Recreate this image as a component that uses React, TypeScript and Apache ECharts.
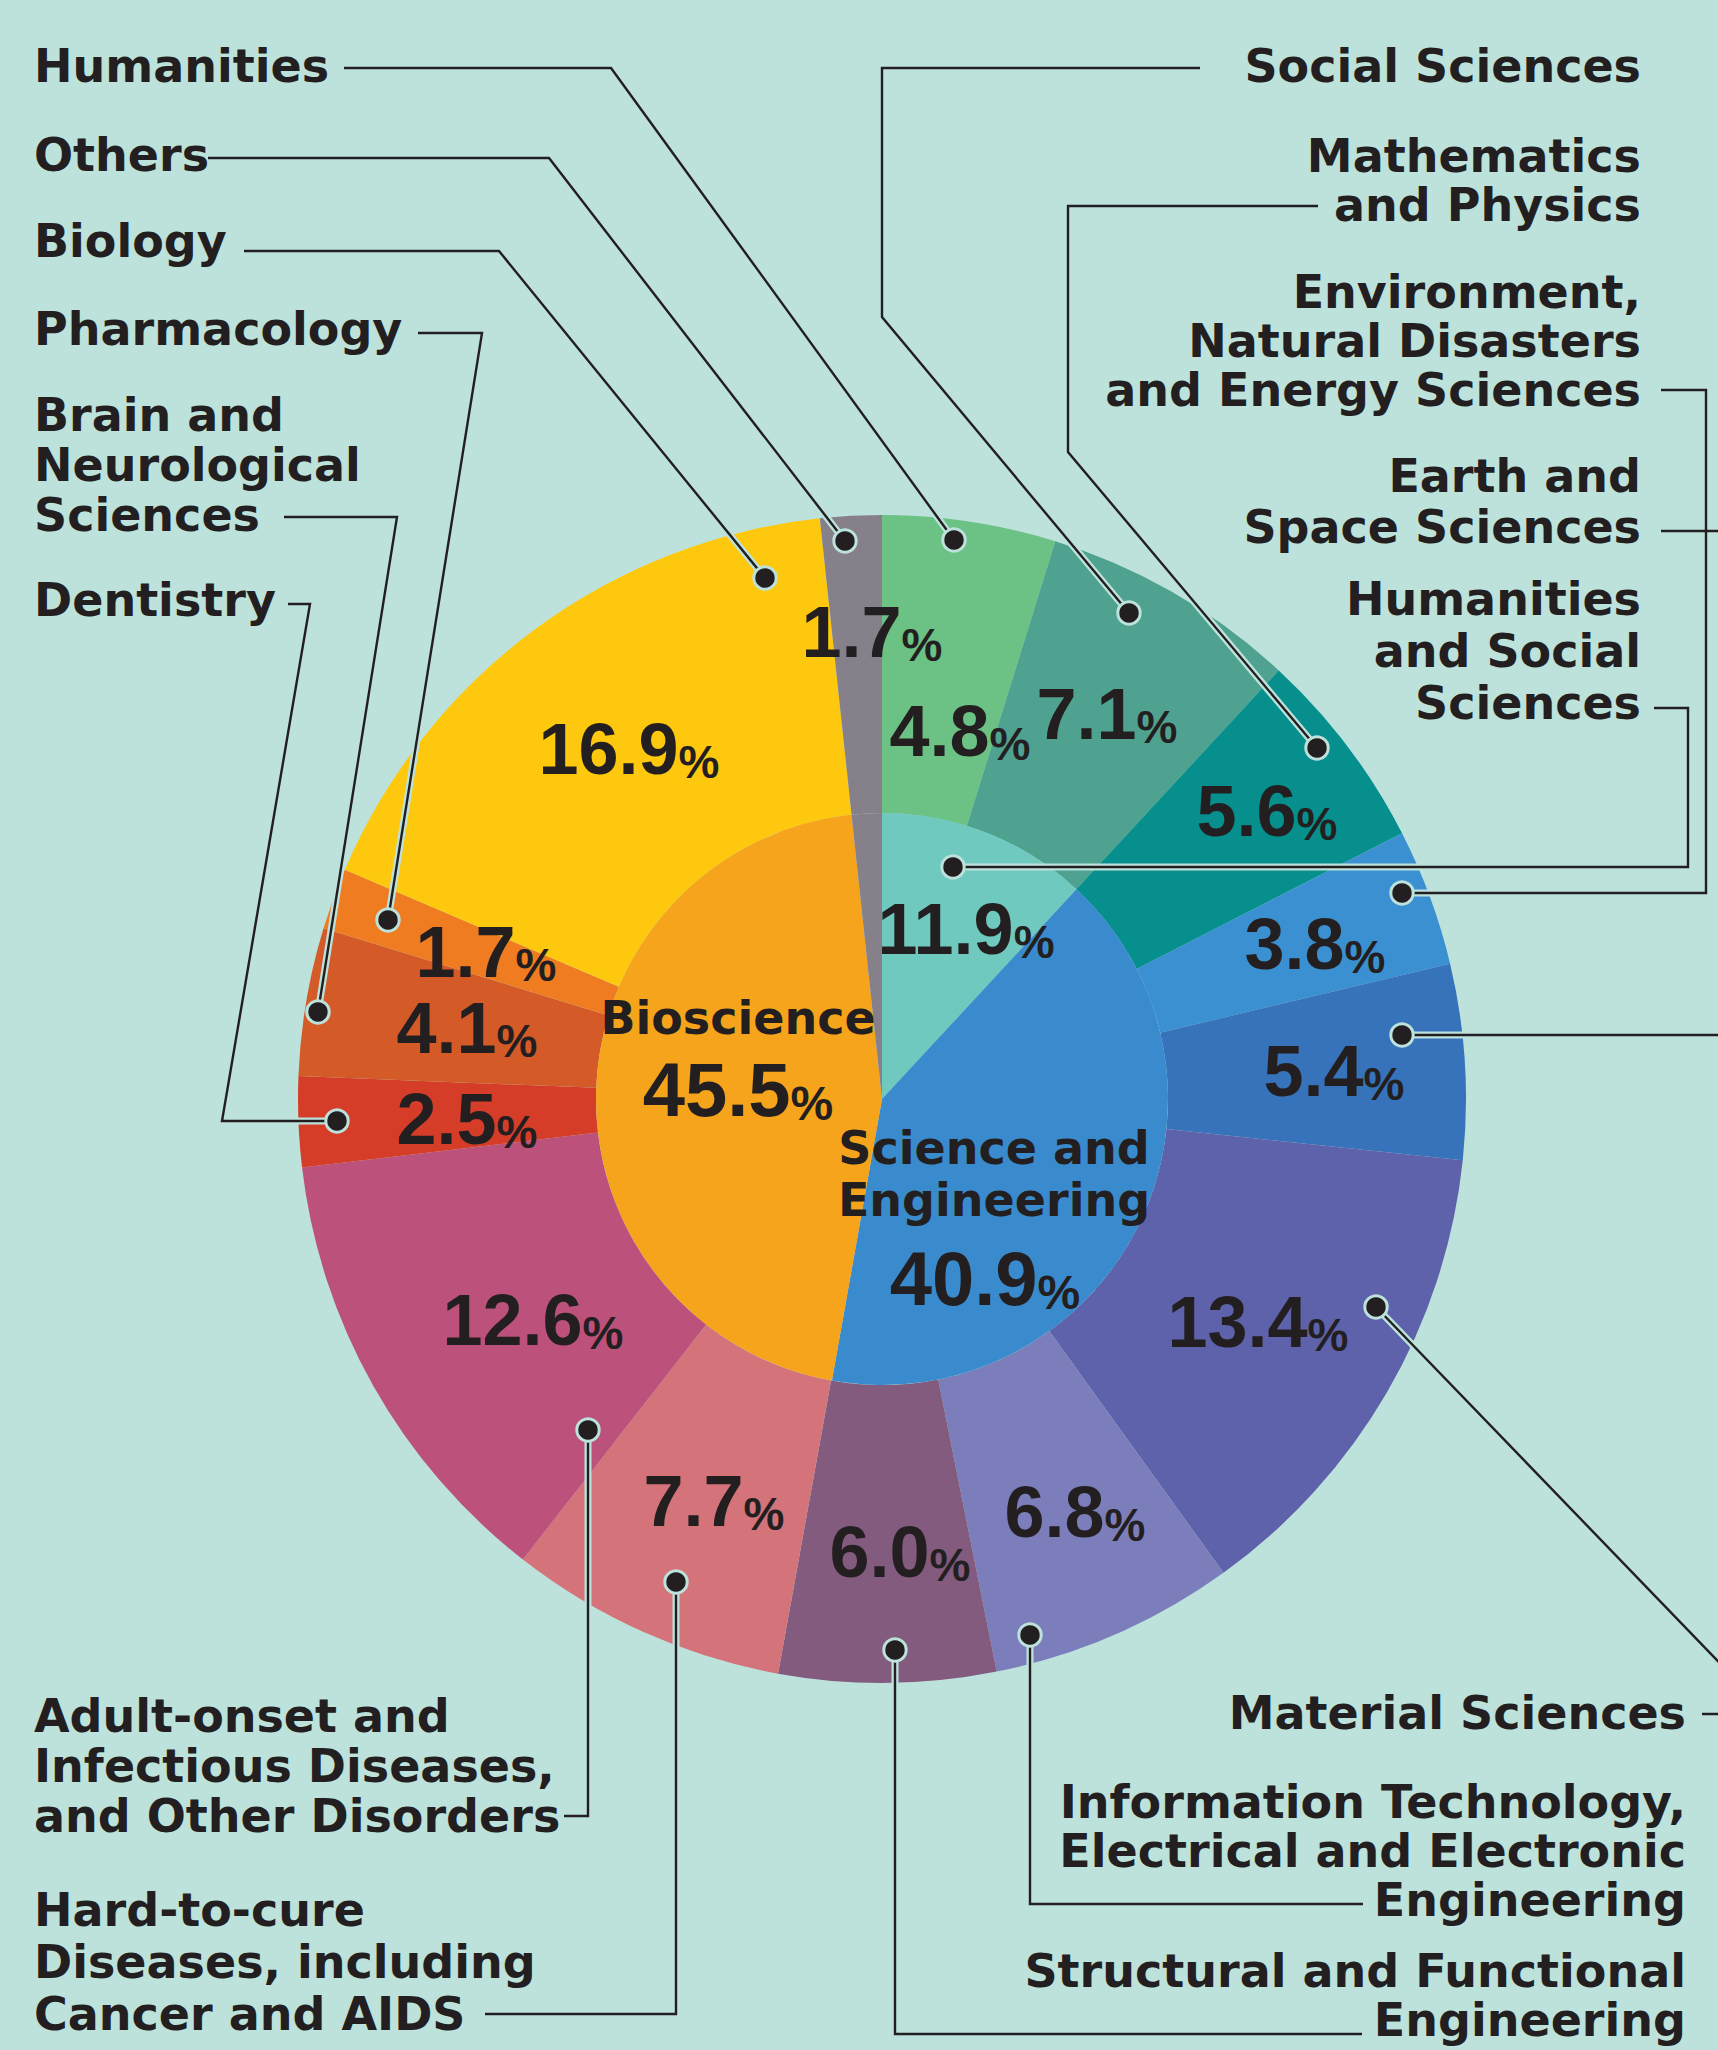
import React, { useEffect, useRef } from 'react';
import * as echarts from 'echarts';

// ---------- DATA ----------
const outerNames = [
  'Humanities',
  'Social Sciences',
  'Mathematics and Physics',
  'Environment, Natural Disasters and Energy Sciences',
  'Earth and Space Sciences',
  'Material Sciences',
  'Information Technology, Electrical and Electronic Engineering',
  'Structural and Functional Engineering',
  'Hard-to-cure Diseases, including Cancer and AIDS',
  'Adult-onset and Infectious Diseases, and Other Disorders',
  'Dentistry',
  'Brain and Neurological Sciences',
  'Pharmacology',
  'Biology',
  'Others',
];
const outerValues = [4.8, 7.1, 5.6, 3.8, 5.4, 13.4, 6.8, 6.0, 7.7, 12.6, 2.5, 4.1, 1.7, 16.9, 1.7];

const innerNames = ['Humanities and Social Sciences', 'Science and Engineering', 'Bioscience', 'Others'];
const innerValues = [11.9, 40.9, 45.5, 1.7];

// label texts (as printed, with line breaks)
const outerLabelTexts = [
  'Humanities',
  'Social Sciences',
  'Mathematics\nand Physics',
  'Environment,\nNatural Disasters\nand Energy Sciences',
  'Earth and\nSpace Sciences',
  'Material Sciences',
  'Information Technology,\nElectrical and Electronic\nEngineering',
  'Structural and Functional\nEngineering',
  'Hard-to-cure\nDiseases, including\nCancer and AIDS',
  'Adult-onset and\nInfectious Diseases,\nand Other Disorders',
  'Dentistry',
  'Brain and\nNeurological\nSciences',
  'Pharmacology',
  'Biology',
  'Others',
];
const innerLabelTexts = ['Humanities\nand Social\nSciences', 'Science and\nEngineering', 'Bioscience', ''];

// ---------- STYLE / LAYOUT ----------
const BG = '#BDE2DC';
const INK = '#231F20';
const outerColors = [
  '#6CC185', '#4FA28F', '#078F8E', '#3A90D0', '#3673BB', '#5D62AA', '#7C7EBC', '#825B7E',
  '#D4737A', '#BC517B', '#D63D29', '#D45B28', '#F07C22', '#FEC80E', '#86808B',
];
const innerColors = ['#70C9BE', '#3A8BCD', '#F6A41C', '#86808B'];

const CENTER = [882, 1099];
const R_IN = 286;
const R_OUT = 584;

// percentage label positions (outer ring, same order as data)
const outerPctPos = [
  [960, 731], [1107, 714], [1267, 811], [1315, 944], [1334, 1071], [1258, 1322], [1075, 1512],
  [900, 1552], [714, 1501], [533, 1320], [467, 1119], [467, 1028], [486, 952], [629, 749], [872, 632],
];
const innerPctPos = [[966, 929], [985, 1278], [738, 1089], null];
const innerTitlePos = [null, [994, 1174], [738, 1018], null];

// leader label layouts: text anchor, alignment, line-height and polyline (ending at the dot)
type Leader = { src: 'outer' | 'inner'; idx: number; x: number; y: number; align: string; lh: number; pts: number[][] };
const leaders: Leader[] = [
  { src: 'outer', idx: 0, x: 34, y: 66, align: 'left', lh: 50, pts: [[344, 68], [611, 68], [954, 540]] },
  { src: 'outer', idx: 14, x: 34, y: 155, align: 'left', lh: 50, pts: [[208, 158], [549, 158], [845, 541]] },
  { src: 'outer', idx: 13, x: 34, y: 241, align: 'left', lh: 50, pts: [[244, 251], [499, 251], [765, 578]] },
  { src: 'outer', idx: 12, x: 34, y: 329, align: 'left', lh: 50, pts: [[418, 333], [482, 333], [388, 920]] },
  { src: 'outer', idx: 11, x: 34, y: 465, align: 'left', lh: 50, pts: [[284, 517], [397, 517], [318, 1012]] },
  { src: 'outer', idx: 10, x: 34, y: 600, align: 'left', lh: 50, pts: [[288, 604], [310, 604], [222, 1121], [337, 1121]] },
  { src: 'outer', idx: 9, x: 34, y: 1766, align: 'left', lh: 50, pts: [[564, 1816], [588, 1816], [588, 1430]] },
  { src: 'outer', idx: 8, x: 34, y: 1962, align: 'left', lh: 52, pts: [[485, 2014], [676, 2014], [676, 1582]] },
  { src: 'outer', idx: 7, x: 1686, y: 1995, align: 'right', lh: 49, pts: [[1362, 2034], [895, 2034], [895, 1650]] },
  { src: 'outer', idx: 6, x: 1686, y: 1851, align: 'right', lh: 49, pts: [[1363, 1904], [1030, 1904], [1030, 1635]] },
  { src: 'outer', idx: 5, x: 1686, y: 1713, align: 'right', lh: 50, pts: [[1702, 1714], [1769, 1714], [1376, 1307]] },
  { src: 'inner', idx: 0, x: 1641, y: 651, align: 'right', lh: 52, pts: [[1654, 708], [1688, 708], [1688, 867], [953, 867]] },
  { src: 'outer', idx: 4, x: 1641, y: 501, align: 'right', lh: 51, pts: [[1661, 531], [1745, 531], [1745, 1035], [1402, 1035]] },
  { src: 'outer', idx: 3, x: 1641, y: 341, align: 'right', lh: 49, pts: [[1661, 390], [1706, 390], [1706, 893], [1402, 893]] },
  { src: 'outer', idx: 2, x: 1641, y: 180, align: 'right', lh: 49, pts: [[1318, 206], [1068, 206], [1068, 452], [1317, 748]] },
  { src: 'outer', idx: 1, x: 1641, y: 66, align: 'right', lh: 50, pts: [[1200, 68], [882, 68], [882, 317], [1129, 613]] },
];

const LABEL_FONT = '"DejaVu Sans", "Liberation Sans", sans-serif';
const NUM_FONT = '"Liberation Sans", Arial, sans-serif';

function pctText(v: number, x: number, y: number, big: boolean) {
  const nSize = big ? 76 : 72;
  const pSize = big ? 48 : 46;
  return {
    type: 'text',
    z: 110,
    silent: true,
    x,
    y,
    style: {
      text: `{n|${v.toFixed(1)}}{p|%}`,
      fill: INK,
      align: 'center',
      verticalAlign: 'middle',
      rich: {
        n: { fontSize: nSize, fontWeight: 'bold', fontFamily: NUM_FONT, lineHeight: nSize, verticalAlign: 'bottom', fill: INK },
        p: { fontSize: pSize, fontWeight: 'bold', fontFamily: NUM_FONT, lineHeight: pSize + 8, verticalAlign: 'bottom', fill: INK },
      },
    },
  };
}

export default function App() {
  const ref = useRef<HTMLDivElement>(null);

  useEffect(() => {
    if (!ref.current) return;
    const chart = echarts.init(ref.current, undefined, { renderer: 'svg' });

    const graphics: any[] = [];

    // leader lines, halos and dots
    leaders.forEach((l) => {
      const end = l.pts[l.pts.length - 1];
      graphics.push({ type: 'polyline', z: 100, silent: true, shape: { points: l.pts }, style: { stroke: BG, lineWidth: 7, fill: 'none' } });
      graphics.push({ type: 'polyline', z: 101, silent: true, shape: { points: l.pts }, style: { stroke: INK, lineWidth: 2.4, fill: 'none' } });
      graphics.push({ type: 'circle', z: 102, silent: true, shape: { cx: end[0], cy: end[1], r: 11.2 }, style: { fill: INK, stroke: BG, lineWidth: 3 } });
      const txt = l.src === 'outer' ? outerLabelTexts[l.idx] : innerLabelTexts[l.idx];
      graphics.push({
        type: 'text',
        z: 110,
        silent: true,
        x: l.x,
        y: l.y,
        style: {
          text: txt,
          fill: INK,
          fontSize: 46,
          fontWeight: 'bold',
          fontFamily: LABEL_FONT,
          lineHeight: l.lh,
          align: l.align,
          verticalAlign: 'middle',
        },
      });
    });

    // percentages on the ring
    outerValues.forEach((v, i) => {
      const p = outerPctPos[i];
      graphics.push(pctText(v, p[0], p[1], false));
    });
    innerValues.forEach((v, i) => {
      const p = innerPctPos[i];
      if (p) graphics.push(pctText(v, p[0], p[1], i > 0));
      const t = innerTitlePos[i];
      if (t) {
        graphics.push({
          type: 'text',
          z: 110,
          silent: true,
          x: t[0],
          y: t[1],
          style: {
            text: innerLabelTexts[i],
            fill: INK,
            fontSize: 46,
            fontWeight: 'bold',
            fontFamily: LABEL_FONT,
            lineHeight: 52,
            align: 'center',
            verticalAlign: 'middle',
          },
        });
      }
    });

    chart.setOption({
      animation: false,
      backgroundColor: BG,
      series: [
        {
          type: 'pie',
          name: 'Field',
          center: CENTER,
          radius: [R_IN, R_OUT],
          startAngle: 90,
          clockwise: true,
          silent: true,
          avoidLabelOverlap: false,
          label: { show: false },
          labelLine: { show: false },
          itemStyle: { borderWidth: 0 },
          emphasis: { disabled: true },
          data: outerNames.map((n, i) => ({ name: n, value: outerValues[i], itemStyle: { color: outerColors[i] } })),
        },
        {
          type: 'pie',
          name: 'Area',
          center: CENTER,
          radius: [0, R_IN],
          startAngle: 90,
          clockwise: true,
          silent: true,
          avoidLabelOverlap: false,
          label: { show: false },
          labelLine: { show: false },
          itemStyle: { borderWidth: 0 },
          emphasis: { disabled: true },
          data: innerNames.map((n, i) => ({ name: n, value: innerValues[i], itemStyle: { color: innerColors[i] } })),
        },
      ],
      graphic: { elements: graphics },
    });

    return () => chart.dispose();
  }, []);

  return (
    <div
      ref={ref}
      style={{ position: 'absolute', left: 0, top: 0, width: 1718, height: 2050, background: BG }}
    />
  );
}
